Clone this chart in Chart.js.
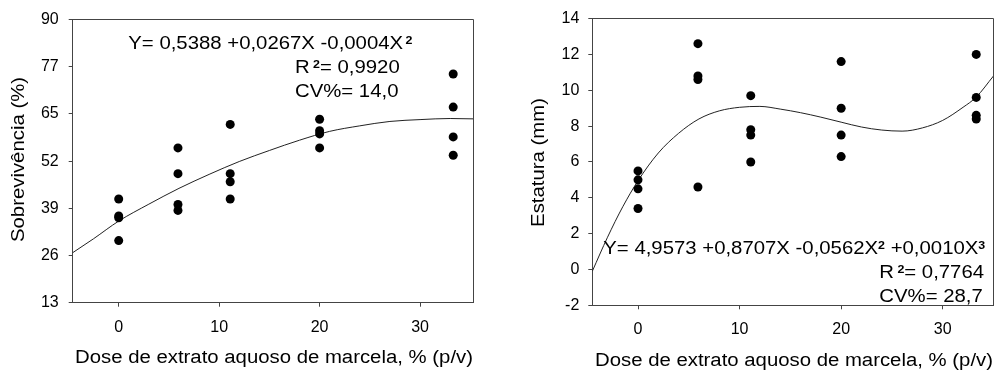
<!DOCTYPE html>
<html lang="pt">
<head>
<meta charset="UTF-8">
<title>Sobrevivência e estatura</title>
<script src="https://cdn.jsdelivr.net/npm/chart.js"></script>
<style>
    body { margin: 0; background: #ffffff; }
    .panel { position: absolute; top: 0; height: 374px; }
    #leftPanel { left: 0; width: 500px; }
    #rightPanel { left: 500px; width: 498px; }
</style>
</head>
<body>
<div class="panel" id="leftPanel"><canvas id="survivalChart"></canvas></div>
<div class="panel" id="rightPanel"><canvas id="heightChart"></canvas></div>

<script>
// dose of each observation (4 repetitions per dose)
const obsDose = [0, 0, 0, 0, 5.9, 5.9, 5.9, 5.9, 11.1, 11.1, 11.1, 11.1,
                 20, 20, 20, 20, 33.3, 33.3, 33.3, 33.3];
const doseTicks = [0, 10, 20, 30];

// survival (%)
const survivalObs = [41.2, 36.6, 36.1, 29.9, 55.1, 48.1, 39.7, 38.1, 61.5, 48.1, 45.9, 41.2,
                     62.9, 59.8, 58.9, 55.1, 75.2, 66.2, 58.1, 53.1];
const survivalFitX = [-4.58, -2.5, 0, 3, 6, 9, 12, 15, 18, 21, 24, 27, 30, 33, 35.3];
const survivalFitY = [26.6, 30.4, 35.2, 39.8, 44.1, 47.9, 51.4, 54.4, 57.2, 59.6, 61.1, 62.3, 62.8, 63.1, 63.0];
const survivalTicks = [13, 26, 39, 52, 65, 77, 90];

// height (mm)
const heightObs = [5.5, 5.0, 4.5, 3.4, 12.6, 10.8, 10.6, 4.6, 9.7, 7.8, 7.5, 6.0,
                   11.6, 9.0, 7.5, 6.3, 12.0, 9.6, 8.6, 8.4];
const heightFitX = [-4.5, -3, -1.5, 0, 2, 4, 6, 8, 10, 12, 14, 16, 18, 20, 22, 24, 26, 28, 30, 32, 33.3, 35];
const heightFitY = [-0.1, 1.8, 3.5, 4.95, 6.5, 7.6, 8.4, 8.85, 9.05, 9.1, 8.95, 8.75, 8.5, 8.22, 7.95, 7.78, 7.72, 7.9, 8.32, 9.05, 9.62, 10.8];
const heightTicks = [-2, 0, 2, 4, 6, 8, 10, 12, 14];

const FONT = '"Liberation Sans", Arial, sans-serif';
const STRETCH = 1.13;   // the original lettering is a bit wider than Arial

function toPoints(xs, ys) {
    return xs.map(function(x, i) { return { x: x, y: ys[i] }; });
}

// text with superscripts, optionally rotated
function drawLabel(ctx, parts, x, y, align, rotate) {
    ctx.save();
    ctx.translate(x, y);
    if (rotate) ctx.rotate(-Math.PI / 2);
    ctx.scale(STRETCH, 1);
    ctx.fillStyle = '#000';
    ctx.textAlign = 'left';
    ctx.textBaseline = 'alphabetic';
    let total = 0;
    parts.forEach(function(p) {
        ctx.font = p.sup ? 'bold 11px ' + FONT : '18px ' + FONT;
        p.w = ctx.measureText(p.t).width + (p.gap || 0);
        total += p.w;
    });
    let cx = align === 'center' ? -total / 2 : 0;
    parts.forEach(function(p) {
        ctx.font = p.sup ? 'bold 11px ' + FONT : '18px ' + FONT;
        ctx.fillText(p.t, cx + (p.gap || 0), p.sup ? -5 : 0);
        cx += p.w;
    });
    ctx.restore();
}

function alignPx(p) { return Math.round(p - 0.5) + 0.5; }

// top/right frame plus the texts of each panel
function panelPlugin(labels) {
    return {
        id: 'panel',
        afterDraw: function(chart) {
            const ctx = chart.ctx;
            const a = chart.chartArea;
            ctx.save();
            ctx.strokeStyle = '#444';
            ctx.lineWidth = 1;
            ctx.beginPath();
            ctx.moveTo(alignPx(a.left), alignPx(a.top));
            ctx.lineTo(alignPx(a.right), alignPx(a.top));
            ctx.lineTo(alignPx(a.right), alignPx(a.bottom));
            ctx.stroke();
            ctx.restore();
            labels.forEach(function(l) {
                drawLabel(ctx, l.parts, l.x, l.y, l.align, l.rotate);
            });
        }
    };
}

function makeChart(canvasId, opts) {
    const axisStyle = {
        border: { color: '#444', width: 1 },
        grid: { drawOnChartArea: false, tickLength: 4, color: '#444' }
    };
    return new Chart(document.getElementById(canvasId), {
        type: 'scatter',
        data: {
            datasets: [{
                data: toPoints(obsDose, opts.obs),
                pointRadius: 4.5,
                pointBackgroundColor: '#000',
                pointBorderWidth: 0
            }, {
                data: toPoints(opts.fitX, opts.fitY),
                showLine: true,
                pointRadius: 0,
                borderColor: '#222',
                borderWidth: 1,
                cubicInterpolationMode: 'monotone',
                fill: false
            }]
        },
        options: {
            responsive: true,
            maintainAspectRatio: false,
            animation: false,
            events: [],
            layout: { padding: opts.padding },
            plugins: { legend: { display: false }, tooltip: { enabled: false } },
            scales: {
                x: Object.assign({
                    type: 'linear',
                    min: opts.xMin,
                    max: opts.xMax,
                    afterBuildTicks: function(s) { s.ticks = doseTicks.map(function(v) { return { value: v }; }); },
                    afterFit: function(s) { s.height = opts.xHeight; },
                    ticks: { color: '#000', font: { family: FONT, size: 16 }, padding: 11, maxRotation: 0 }
                }, axisStyle),
                y: Object.assign({
                    type: 'linear',
                    min: opts.yTicks[0],
                    max: opts.yTicks[opts.yTicks.length - 1],
                    afterBuildTicks: function(s) {
                        const lo = opts.yTicks[0], hi = opts.yTicks[opts.yTicks.length - 1];
                        const n = opts.yTicks.length - 1;
                        s.ticks = opts.yTicks.map(function(_, i) { return { value: lo + (hi - lo) * i / n }; });
                    },
                    afterFit: function(s) { s.width = opts.yWidth; },
                    ticks: {
                        color: '#000', font: { family: FONT, size: 16 }, padding: opts.yPad,
                        callback: function(v, i) { return String(opts.yTicks[i]); }
                    }
                }, axisStyle)
            }
        },
        plugins: [panelPlugin(opts.labels)]
    });
}

const xTitle = [{ t: 'Dose de extrato aquoso de marcela, % (p/v)' }];

makeChart('survivalChart', {
    obs: survivalObs, fitX: survivalFitX, fitY: survivalFitY, yTicks: survivalTicks,
    xMin: -4.58, xMax: 35.3, xHeight: 71.3, yWidth: 72.7, yPad: 10,
    padding: { top: 15.7, right: 26.7, left: 0, bottom: 0 },
    labels: [
        { parts: [{ t: 'Y= 0,5388 +0,0267X -0,0004X' }, { t: '2', sup: true, gap: 2 }], x: 128.3, y: 49.3 },
        { parts: [{ t: 'R' }, { t: '2', sup: true, gap: 3 }, { t: '= 0,9920' }], x: 295, y: 73.3 },
        { parts: [{ t: 'CV%= 14,0' }], x: 295, y: 96.7 },
        { parts: xTitle, x: 274, y: 363, align: 'center' },
        { parts: [{ t: 'Sobrevivência (%)' }], x: 24, y: 159.5, align: 'center', rotate: true }
    ]
});

makeChart('heightChart', {
    obs: heightObs, fitX: heightFitX, fitY: heightFitY, yTicks: heightTicks,
    xMin: -4.5, xMax: 35, xHeight: 68.7, yWidth: 92.3, yPad: 9,
    padding: { top: 15.7, right: 4, left: 0, bottom: 0 },
    labels: [
        { parts: [{ t: 'Y= 4,9573 +0,8707X -0,0562X' }, { t: '2', sup: true }, { t: ' +0,0010X' }, { t: '3', sup: true }], x: 103.3, y: 254 },
        { parts: [{ t: 'R' }, { t: '2', sup: true, gap: 3 }, { t: '= 0,7764' }], x: 379.3, y: 278.3 },
        { parts: [{ t: 'CV%= 28,7' }], x: 379.3, y: 301.7 },
        { parts: xTitle, x: 294, y: 366, align: 'center' },
        { parts: [{ t: 'Estatura (mm)' }], x: 44, y: 162.5, align: 'center', rotate: true }
    ]
});
</script>
</body>
</html>
